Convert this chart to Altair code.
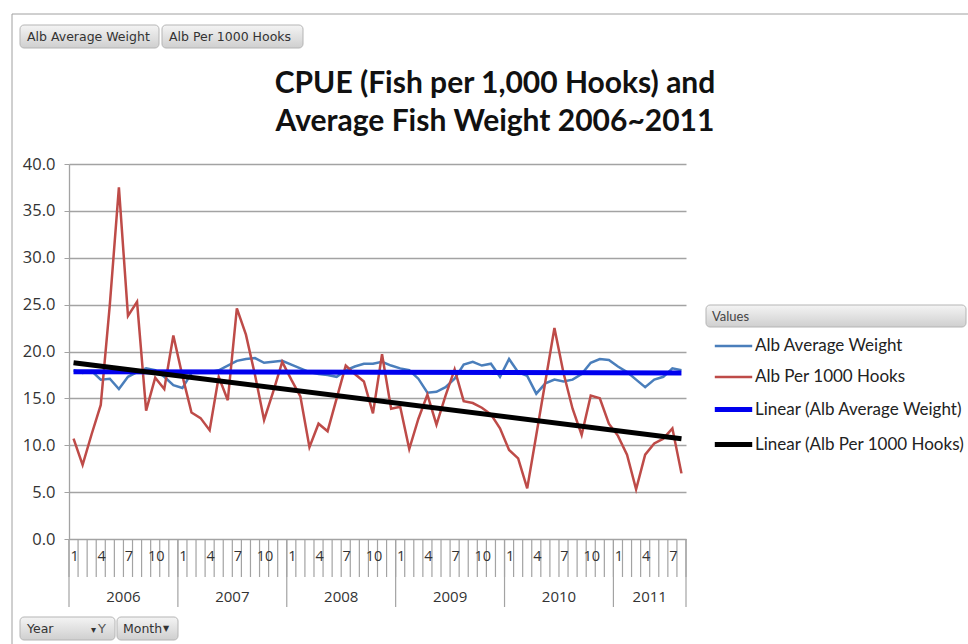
import altair as alt
import pandas as pd

# ---------------- data ----------------
years = [2006, 2007, 2008, 2009, 2010, 2011]
months_in_year = [12, 12, 12, 12, 12, 8]
month_labels_shown = [1, 4, 7, 10]

alb_avg_weight = [
    18.0, 17.7, 17.9, 17.0, 17.1, 16.0, 17.3, 17.8, 18.2, 18.0, 17.3, 16.4,
    16.1, 17.7, 17.9, 17.8, 18.0, 18.5, 19.0, 19.2, 19.3, 18.8, 18.9, 19.0,
    18.6, 18.2, 17.8, 17.6, 17.5, 17.3, 18.0, 18.4, 18.7, 18.7, 18.9, 18.5,
    18.2, 18.0, 17.1, 15.6, 15.7, 16.2, 17.1, 18.6, 18.9, 18.5, 18.7, 17.3,
    19.2, 17.8, 17.4, 15.5, 16.6, 17.0, 16.8, 17.0, 17.6, 18.8, 19.2, 19.1,
    18.4, 17.8, 17.0, 16.2, 17.0, 17.3, 18.2, 18.0,
]
alb_per_1000_hooks = [
    10.7, 7.9, 11.2, 14.3, 25.0, 37.5, 23.8, 25.3, 13.7, 17.2, 16.0, 21.7,
    17.4, 13.5, 12.9, 11.6, 17.3, 14.8, 24.6, 21.8, 17.5, 12.7, 15.7, 18.9,
    17.0, 15.2, 9.8, 12.3, 11.5, 15.0, 18.5, 17.6, 16.8, 13.4, 19.7, 13.9,
    14.1, 9.6, 12.8, 15.4, 12.2, 15.3, 18.1, 14.7, 14.5, 14.0, 13.3, 11.8,
    9.5, 8.6, 5.4, 11.1, 16.8, 22.5, 17.7, 13.9, 11.1, 15.3, 15.0, 12.3,
    11.0, 9.0, 5.3, 9.0, 10.2, 10.7, 11.8, 7.0,
]

series_names = ["Alb Average Weight", "Alb Per 1000 Hooks"]
legend_names = series_names + ["Linear (Alb Average Weight)", "Linear (Alb Per 1000 Hooks)"]
line_colors = ["#4a7ebb", "#be4b48", "#0000ee", "#000000"]
line_widths = [2.5, 2.5, 5.0, 5.0]

y_ticks = [0, 5, 10, 15, 20, 25, 30, 35, 40]
title_lines = ["CPUE (Fish per 1,000 Hooks) and", "Average Fish Weight 2006~2011"]

# ---------------- tables ----------------
year_col, month_col = [], []
for yr, n in zip(years, months_in_year):
    for m in range(1, n + 1):
        year_col.append(yr)
        month_col.append(m)
N = len(year_col)
idx = list(range(N))

long_df = pd.DataFrame({
    "t": idx * 2,
    "year": year_col * 2,
    "month": month_col * 2,
    "series": [series_names[0]] * N + [series_names[1]] * N,
    "value": alb_avg_weight + alb_per_1000_hooks,
})

month_lab_df = pd.DataFrame({"t": idx, "month": month_col})
month_lab_df = month_lab_df[month_lab_df["month"].isin(month_labels_shown)]

year_lab_rows = []
start = 0
year_bounds = [-0.5]
for yr, n in zip(years, months_in_year):
    year_lab_rows.append({"t": start + (n - 1) / 2, "year": str(yr)})
    start += n
    year_bounds.append(start - 0.5)
year_lab_df = pd.DataFrame(year_lab_rows)
month_bound_df = pd.DataFrame({"b": [i - 0.5 for i in range(N + 1)]})
year_bound_df = pd.DataFrame({"b": year_bounds})

W, H = 617, 375
FONT = "Lato"
NUMFONT = "Open Sans"
GRID = "#a3a3a3"

xscale = alt.Scale(domain=[-0.5, N - 0.5], nice=False, zero=False)
yscale = alt.Scale(domain=[0, 40], nice=False)

color = alt.Color(
    "series:N",
    scale=alt.Scale(domain=legend_names, range=line_colors),
    legend=alt.Legend(
        title="Values", orient="none", legendX=643, legendY=147,
        symbolType="stroke", symbolSize=1400, symbolStrokeWidth=3,
        labelFont=FONT, labelFontSize=17, labelColor="#222222", labelOffset=0,
        labelLimit=300,
        titleFont=FONT, titleFontSize=13, titleFontWeight="normal", titleColor="#444444",
        titlePadding=2, rowPadding=3, padding=0, offset=0,
    ),
)
swidth = alt.StrokeWidth(
    "series:N",
    scale=alt.Scale(type="ordinal", domain=legend_names, range=line_widths),
    legend=None,
)

base = alt.Chart(long_df)

lines = base.mark_line().encode(
    x=alt.X("t:Q", scale=xscale, axis=None),
    y=alt.Y("value:Q", scale=yscale, axis=alt.Axis(
        values=y_ticks, format=".1f", title=None, grid=True,
        gridColor=GRID, gridWidth=1.3, domainColor=GRID, domainWidth=1.3,
        tickColor=GRID, tickSize=5, labelFont=NUMFONT, labelFontSize=16.5,
        labelColor="#333333", labelPadding=9)),
    color=color,
    strokeWidth=swidth,
    order="t:Q",
)

trends = base.transform_regression(
    "t", "value", groupby=["series"]
).transform_calculate(
    series='"Linear (" + datum.series + ")"'
).mark_line().encode(
    x=alt.X("t:Q", scale=xscale, axis=None),
    y=alt.Y("value:Q", scale=yscale),
    color=color,
    strokeWidth=swidth,
)

# category axis (two levels)
month_ticks = alt.Chart(month_bound_df).mark_rule(color=GRID, strokeWidth=1.2).encode(
    x=alt.X("b:Q", scale=xscale, axis=None), y=alt.value(H), y2=alt.value(H + 38))
year_ticks = alt.Chart(year_bound_df).mark_rule(color=GRID, strokeWidth=1.2).encode(
    x=alt.X("b:Q", scale=xscale, axis=None), y=alt.value(H), y2=alt.value(H + 68))
month_text = alt.Chart(month_lab_df).mark_text(
    font=NUMFONT, fontSize=14.5, color="#333333", baseline="middle", align="center", dx=1
).encode(x=alt.X("t:Q", scale=xscale, axis=None), y=alt.value(H + 18), text="month:N")
year_text = alt.Chart(year_lab_df).mark_text(
    font=NUMFONT, fontSize=15, color="#333333", baseline="middle", align="center"
).encode(x=alt.X("t:Q", scale=xscale, axis=None), y=alt.value(H + 58), text="year:N")

one = pd.DataFrame({"k": [0]})
grad = alt.Gradient(gradient="linear",
                    stops=[alt.GradientStop(color="#f4f4f4", offset=0),
                           alt.GradientStop(color="#cfcfcf", offset=1)],
                    x1=0, x2=0, y1=0, y2=1)


def box(x0, x1, y0, y1):
    return alt.Chart(one).mark_rect(fill=grad, stroke="#b5b5b5", strokeWidth=1,
                                    cornerRadius=4).encode(
        x=alt.value(x0), x2=alt.value(x1), y=alt.value(y0), y2=alt.value(y1))


def label(x, y, txt, size=12, color="#333333", font="DejaVu Sans"):
    return alt.Chart(one).mark_text(font=font, fontSize=size, color=color,
                                    align="left", baseline="middle").encode(
        x=alt.value(x), y=alt.value(y), text=alt.value(txt))


decor = [
    # chart border
    alt.Chart(one).mark_rule(color="#a0a0a0", strokeWidth=1).encode(
        x=alt.value(-57), x2=alt.value(899), y=alt.value(-150)),
    alt.Chart(one).mark_rule(color="#a0a0a0", strokeWidth=1).encode(
        x=alt.value(-57), y=alt.value(-150), y2=alt.value(480)),
    # field buttons
    box(-49, 90, -139, -116), label(-42, -127.5, "Alb Average Weight", 12.5),
    box(93, 234, -139, -116), label(100, -127.5, "Alb Per 1000 Hooks", 12.5),
    box(-49, 46, 453, 476), label(-42, 464.5, "Year", 12.5),
    label(22, 466, "▾", 10), label(29, 464.5, "Y", 13, "#555555"),
    box(48, 109, 453, 476), label(54, 464.5, "Month", 12.5), label(94, 465, "▼", 8),
    # legend header
    box(637, 897, 141, 163),
]

title_layer = [
    alt.Chart(one).mark_text(font=FONT, fontSize=30, fontWeight="bold", color="#111111",
                             align="center", baseline="alphabetic").encode(
        x=alt.value(426), y=alt.value(-71), text=alt.value(title_lines[0])),
    alt.Chart(one).mark_text(font=FONT, fontSize=30, fontWeight="bold", color="#111111",
                             align="center", baseline="alphabetic").encode(
        x=alt.value(426), y=alt.value(-33), text=alt.value(title_lines[1])),
]

chart = alt.layer(
    *decor, month_ticks, year_ticks, month_text, year_text, lines, trends, *title_layer
).properties(
    width=W, height=H,
    padding={"left": 69, "top": 164, "right": 968 - 69 - W, "bottom": 644 - 164 - H},
    autosize=alt.AutoSizeParams(type="none"),
    background="white",
).configure_view(stroke=None)

chart.save("out.html", embed_options={"renderer": "svg", "actions": False})
